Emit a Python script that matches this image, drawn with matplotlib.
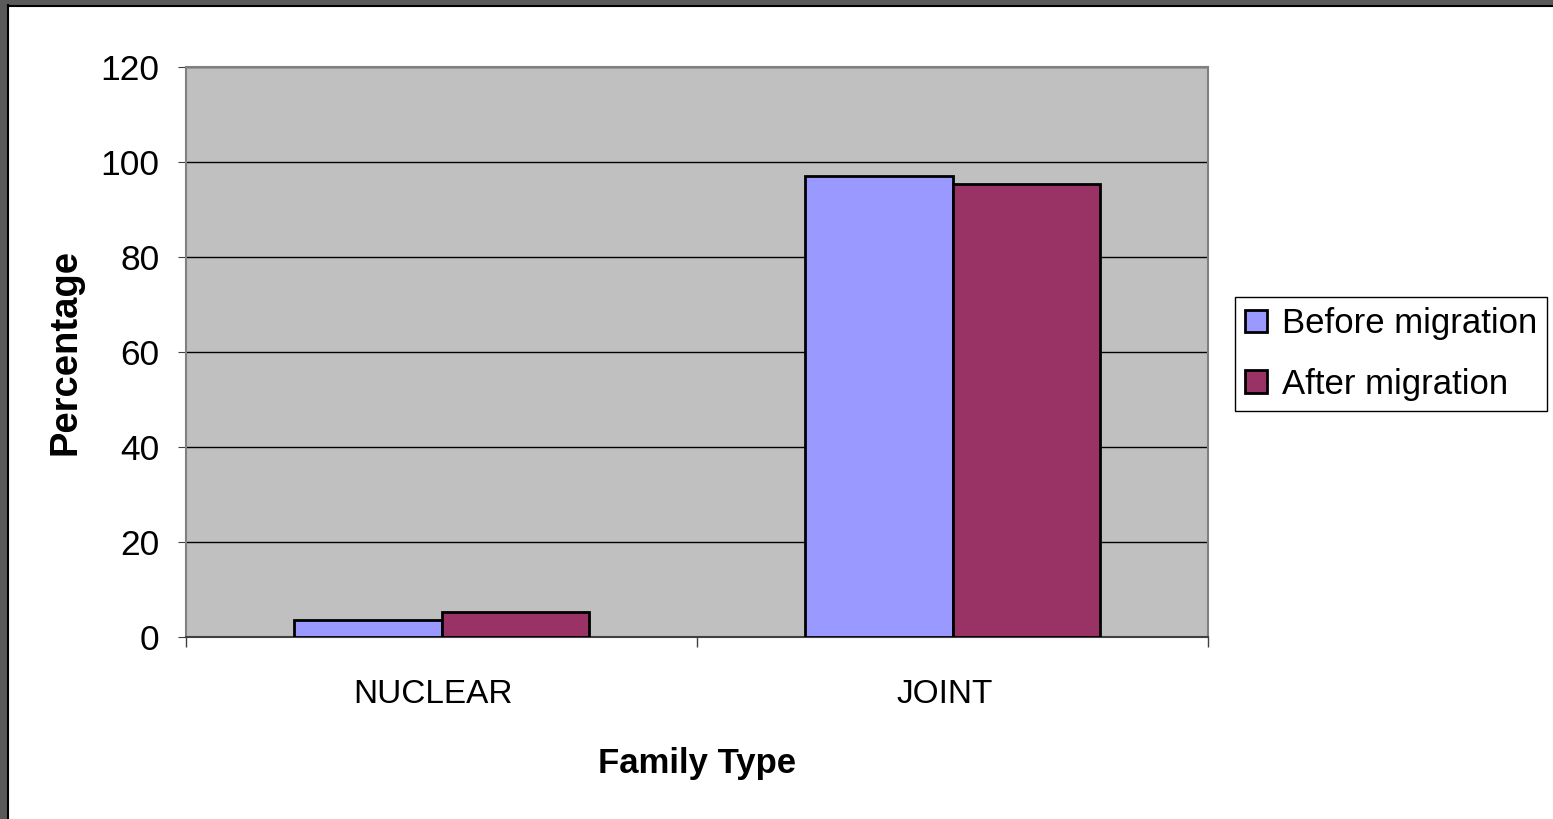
import matplotlib.pyplot as plt
from matplotlib.patches import Rectangle
import numpy as np

plt.rcParams['font.family'] = ['Liberation Sans', 'DejaVu Sans']

categories = ['NUCLEAR', 'JOINT']
before = [3.6, 97.0]
after = [5.3, 95.3]
series_names = ['Before migration', 'After migration']
yticks = [0, 20, 40, 60, 80, 100, 120]

fig = plt.figure(figsize=(15.53, 8.19), dpi=100)

# screenshot frame on left and top
fig.patches.append(Rectangle((0, 0), 7 / 1553, 1, transform=fig.transFigure,
                             facecolor='#5a5a5a', edgecolor='none', zorder=0))
fig.patches.append(Rectangle((0, 1 - 5 / 819), 1, 5 / 819, transform=fig.transFigure,
                             facecolor='#5a5a5a', edgecolor='none', zorder=0))
fig.lines.append(plt.Line2D([7.5 / 1553, 7.5 / 1553], [0, 1 - 5 / 819], transform=fig.transFigure,
                            color='black', lw=1.5))
fig.lines.append(plt.Line2D([7.5 / 1553, 1], [1 - 5.5 / 819, 1 - 5.5 / 819], transform=fig.transFigure,
                            color='black', lw=1.5))

ax = fig.add_axes([186 / 1553, 1 - 637 / 819, 1022 / 1553, 570 / 819])
ax.set_facecolor('#c0c0c0')

x = np.arange(len(categories))
w = 0.288
ax.bar(x - w / 2, before, w, color='#9999ff', edgecolor='black', linewidth=2,
       label=series_names[0], zorder=3)
ax.bar(x + w / 2, after, w, color='#993366', edgecolor='black', linewidth=2,
       label=series_names[1], zorder=3)

ax.set_xlim(-0.5, 1.5)
ax.set_ylim(0, 120)
ax.set_yticks(yticks)
ax.set_xticks(x - 0.016)
ax.set_xticklabels(categories)
ax.tick_params(axis='x', length=0, labelsize=24, pad=30)
ax.set_xticks([-0.5, 0.5, 1.5], minor=True)
ax.tick_params(axis='x', which='minor', length=7, color='#404040', width=1)
ax.tick_params(axis='y', length=6, labelsize=25.5, pad=13, color='#404040')
ax.grid(axis='y', color='black', lw=1, zorder=1)

for s in ['top', 'right', 'left']:
    ax.spines[s].set_color('#808080')
    ax.spines[s].set_linewidth(1.5)
ax.spines['bottom'].set_color('#404040')
ax.spines['bottom'].set_linewidth(1.5)

ax.set_ylabel('Percentage', fontsize=27.5, fontweight='bold', labelpad=12)
ax.set_xlabel('Family Type', fontsize=25, fontweight='bold', labelpad=27)

leg = ax.legend(loc='center left', bbox_to_anchor=(1235 / 1553, 1 - 354 / 819),
                bbox_transform=fig.transFigure, fontsize=25, frameon=True,
                fancybox=False, edgecolor='black', framealpha=1,
                handlelength=0.62, handleheight=0.62, handletextpad=0.42,
                borderpad=0.3, labelspacing=0.8, borderaxespad=0)
leg.get_frame().set_linewidth(1)

fig.savefig('out.png', dpi=100)
